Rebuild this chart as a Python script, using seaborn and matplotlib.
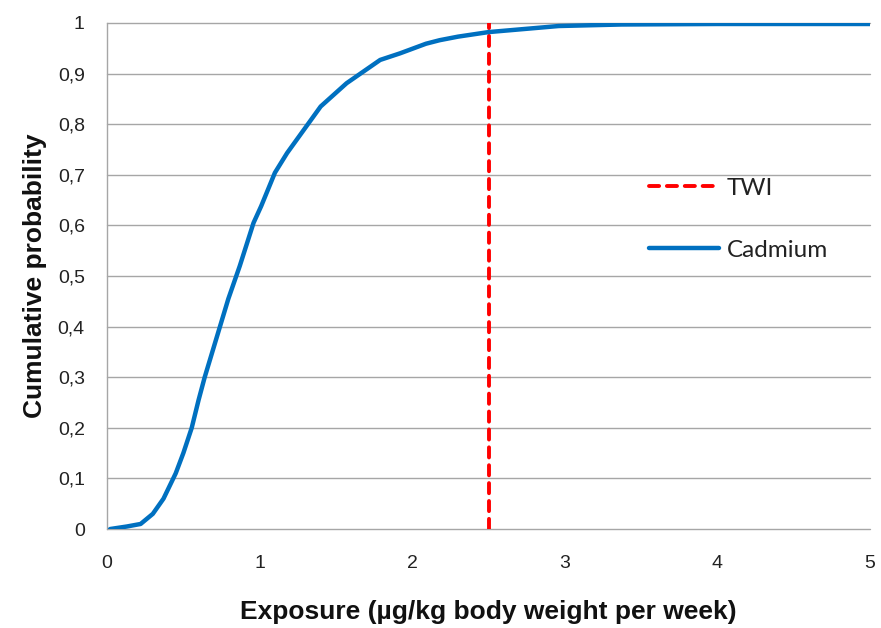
import matplotlib
matplotlib.use("Agg")
import matplotlib.pyplot as plt
import seaborn as sns
import pandas as pd
from matplotlib.ticker import FuncFormatter

# Data
exposure = [0.02, 0.13, 0.22, 0.30, 0.37, 0.41, 0.45, 0.50, 0.555, 0.60, 0.64, 0.69,
            0.74, 0.795, 0.87, 0.96, 1.01, 1.10, 1.18, 1.29, 1.40, 1.57, 1.79, 1.92,
            2.09, 2.18, 2.30, 2.50, 2.96, 3.37, 4.0, 5.0]
cum_prob = [0.0, 0.005, 0.01, 0.03, 0.06, 0.085, 0.11, 0.15, 0.20, 0.255, 0.30, 0.35,
            0.40, 0.455, 0.52, 0.605, 0.638, 0.704, 0.743, 0.789, 0.835, 0.881, 0.927, 0.940,
            0.959, 0.966, 0.973, 0.982, 0.994, 0.997, 0.998, 0.998]
twi_value = 2.5
x_ticks = [0, 1, 2, 3, 4, 5]
y_ticks = [0, 0.1, 0.2, 0.3, 0.4, 0.5, 0.6, 0.7, 0.8, 0.9, 1.0]

sns.set_theme(style="white")
plt.rcParams['font.family'] = ['Liberation Sans', 'DejaVu Sans']

df = pd.DataFrame({"Exposure": exposure, "Cumulative probability": cum_prob})

fig = plt.figure(figsize=(8.81, 6.28), dpi=100)
ax = fig.add_axes([0.1215, 0.1576, 0.8660, 0.8058])

for yt in y_ticks:
    ax.axhline(yt, color="#A6A6A6", lw=1.0, zorder=0, clip_on=False)

ax.axvline(twi_value, color="#FF0000", lw=2.8, ls=(0, (2.6, 2.0)),
           dash_capstyle="round", label="TWI", zorder=3)
sns.lineplot(data=df, x="Exposure", y="Cumulative probability", ax=ax, color="#0070C0",
             lw=3.2, label="Cadmium", sort=False, zorder=4)

ax.set_xlim(0, 5)
ax.set_ylim(0, 1)
ax.set_xticks(x_ticks)
ax.set_yticks(y_ticks)
fmt = FuncFormatter(lambda v, p: ("%g" % round(v, 1)).replace(".", ","))
ax.yaxis.set_major_formatter(fmt)
ax.xaxis.set_major_formatter(fmt)
ax.tick_params(axis="x", length=0, pad=19, labelsize=14, colors="#222222")
ax.tick_params(axis="y", length=0, pad=16, labelsize=14, colors="#222222")

for s in ["top", "right", "bottom"]:
    ax.spines[s].set_visible(False)
ax.spines["left"].set_color("#A6A6A6")
ax.spines["left"].set_linewidth(1.0)

ax.set_xlabel("Exposure (µg/kg body weight per week)", fontsize=19, fontweight="bold",
              labelpad=20, color="#111111")
ax.set_ylabel("Cumulative probability", fontsize=19, fontweight="bold", labelpad=8,
              color="#111111")

leg = ax.legend(loc="center left", bbox_to_anchor=(0.710, 0.612), frameon=False,
                prop={"family": "Lato", "size": 17.5}, handlelength=2.9,
                labelspacing=1.7, handletextpad=0.3, borderpad=0, borderaxespad=0)
for t in leg.get_texts():
    t.set_color("#222222")

fig.savefig("out.png", dpi=100, facecolor="white")
